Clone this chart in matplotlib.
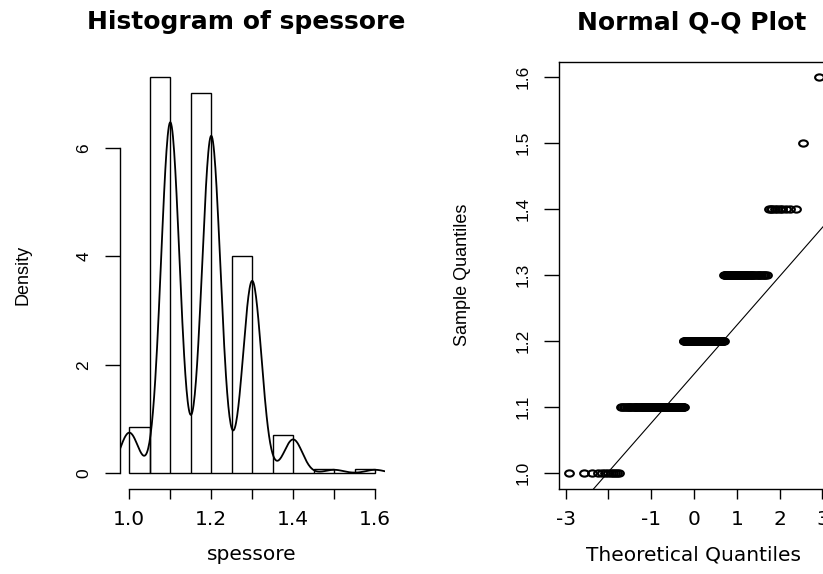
import numpy as np
import matplotlib
matplotlib.use("Agg")
import matplotlib.pyplot as plt
from matplotlib.path import Path
from matplotlib.transforms import Affine2D
from statistics import NormalDist

# ---------------- data ----------------
values = [1.0, 1.1, 1.2, 1.3, 1.4, 1.5, 1.6]          # distinct "spessore" values
counts = [12, 104, 100, 57, 10, 1, 1]                   # how many times each occurs
bin_edges = [1.0, 1.05, 1.1, 1.15, 1.2, 1.25, 1.3, 1.35, 1.4, 1.45, 1.5, 1.55, 1.6]
kde_bandwidth = 0.0225

hist_title = "Histogram of spessore"
hist_xlabel = "spessore"
hist_ylabel = "Density"
hist_xticks = [1.0, 1.1, 1.2, 1.3, 1.4, 1.5, 1.6]
hist_xticklabels = ["1.0", "", "1.2", "", "1.4", "", "1.6"]
hist_yticks = [0, 2, 4, 6]
hist_yticklabels = ["0", "2", "4", "6"]

qq_title = "Normal Q-Q Plot"
qq_xlabel = "Theoretical Quantiles"
qq_ylabel = "Sample Quantiles"
qq_xticks = [-3, -2, -1, 0, 1, 2, 3]
qq_xticklabels = ["-3", "", "-1", "0", "1", "2", "3"]
qq_yticks = [1.0, 1.1, 1.2, 1.3, 1.4, 1.5, 1.6]
qq_yticklabels = ["1.0", "1.1", "1.2", "1.3", "1.4", "1.5", "1.6"]

# ---------------- derived quantities ----------------
sample = np.repeat(values, counts)
n = len(sample)
edges = np.array(bin_edges)
idx = np.clip(np.searchsorted(edges, sample, side="left") - 1, 0, len(edges) - 2)
bin_counts = np.bincount(idx, minlength=len(edges) - 1)
widths = np.diff(edges)
density = bin_counts / (n * widths)

grid = np.linspace(sample.min() - 3 * kde_bandwidth, sample.max() + 3 * kde_bandwidth, 512)
kde = np.zeros_like(grid)
for v, c in zip(values, counts):
    kde += c * np.exp(-0.5 * ((grid - v) / kde_bandwidth) ** 2)
kde /= n * kde_bandwidth * np.sqrt(2 * np.pi)

nd = NormalDist()
theo = np.array([nd.inv_cdf((i - 0.5) / n) for i in range(1, n + 1)])
sorted_sample = np.sort(sample)
q1, q3 = np.quantile(sample, [0.25, 0.75])
z1, z3 = nd.inv_cdf(0.25), nd.inv_cdf(0.75)
slope = (q3 - q1) / (z3 - z1)
intercept = q1 - slope * z1

# ---------------- figure ----------------
W, H = 823, 574
plt.rcParams["font.family"] = ["DejaVu Sans"]
fig = plt.figure(figsize=(W / 100, H / 100), dpi=100)

top_px, bot_px = 61.5, 489.0
ax1 = fig.add_axes([119.5 / W, (H - bot_px) / H, 265.4 / W, (bot_px - top_px) / H])
ax2 = fig.add_axes([559.0 / W, (H - bot_px) / H, 269.9 / W, (bot_px - top_px) / H])

rot_font = "Liberation Sans"

# ---- histogram ----
ax1.bar(edges[:-1], density, width=widths, align="edge", fill=False,
        edgecolor="black", linewidth=1.0)
ax1.plot(grid, kde, color="black", linewidth=1.3)
xr = edges[-1] - edges[0]
ax1.set_xlim(edges[0] - 0.04 * xr, edges[-1] + 0.04 * xr)
yr = density.max()
ax1.set_ylim(-0.04 * yr, yr * 1.04)
for s in ["top", "right"]:
    ax1.spines[s].set_visible(False)
ax1.spines["left"].set_bounds(hist_yticks[0], hist_yticks[-1])
ax1.spines["bottom"].set_bounds(hist_xticks[0], hist_xticks[-1])
ax1.set_xticks(hist_xticks)
ax1.set_xticklabels(hist_xticklabels)
ax1.set_yticks(hist_yticks)
ax1.set_yticklabels(hist_yticklabels)

# ---- Q-Q plot ----
ellipse = Path.unit_circle().transformed(Affine2D().scale(1.4, 1.0))
pts, = ax2.plot(theo, sorted_sample, linestyle="none", marker=ellipse, markersize=6.3,
                markerfacecolor="none", markeredgecolor="black", markeredgewidth=1.5)
ax2.axline((0, intercept), slope=slope, color="black", linewidth=0.8)
tr = theo.max() - theo.min()
ax2.set_xlim(theo.min() - 0.04 * tr, theo.max() + 0.04 * tr)
sr = sorted_sample.max() - sorted_sample.min()
ax2.set_ylim(sorted_sample.min() - 0.04 * sr, sorted_sample.max() + 0.04 * sr)
ax2.set_xticks(qq_xticks)
ax2.set_xticklabels(qq_xticklabels)
ax2.set_yticks(qq_yticks)
ax2.set_yticklabels(qq_yticklabels)

title_shift_px = {id(ax1): -6.0, id(ax2): -2.5}
for ax, title, xl, yl in [(ax1, hist_title, hist_xlabel, hist_ylabel),
                          (ax2, qq_title, qq_xlabel, qq_ylabel)]:
    axh = bot_px - top_px
    axw = ax.get_position().width * W
    for sp in ax.spines.values():
        sp.set_linewidth(1.0)
    ax.tick_params(axis="x", length=7.2, width=1.0, pad=8.0, labelsize=14.5)
    ax.tick_params(axis="y", length=10.8, width=1.0, pad=9.5, labelsize=12.5,
                   labelrotation=90)
    for lbl in ax.get_yticklabels():
        lbl.set_fontfamily(rot_font)
        lbl.set_va("center")
    ax.set_title(title, fontsize=18, fontweight="bold", pad=0,
                 x=0.5 + title_shift_px[id(ax)] / axw, y=1 + 39.0 / axh, va="center")
    ax.set_xlabel(xl, fontsize=14.5)
    ax.xaxis.set_label_coords(0.5, -66.0 / axh)
    ax.xaxis.label.set_va("center")
    ax.set_ylabel(yl, fontsize=13, fontfamily=rot_font)
    ax.yaxis.set_label_coords(-96.5 / axw, 0.5)
    ax.yaxis.label.set_va("center")

fig.savefig("out.png", dpi=100)
